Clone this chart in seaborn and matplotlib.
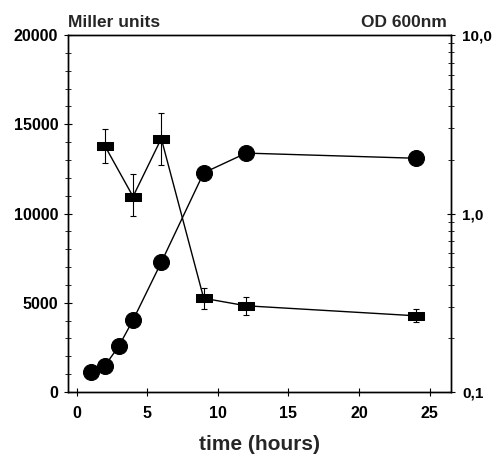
import numpy as np
import pandas as pd
import matplotlib
matplotlib.use("Agg")
import matplotlib.pyplot as plt
import seaborn as sns
from matplotlib.ticker import FixedLocator, FixedFormatter, MultipleLocator, LogLocator, NullFormatter

# ── DATA ────────────────────────────────────────────────────────────────────
miller_time = [2, 4, 6, 9, 12, 24]
miller_units = [13800, 10950, 14200, 5250, 4830, 4270]
miller_err_up = [950, 1250, 1450, 550, 500, 380]
miller_err_dn = [950, 1100, 1500, 600, 530, 370]

od_time = [1, 2, 3, 4, 6, 9, 12, 24]
od_600 = [0.130, 0.140, 0.181, 0.253, 0.533, 1.69, 2.18, 2.04]

left_ticks = [0, 5000, 10000, 15000, 20000]
right_ticks = [0.1, 1.0, 10.0]
right_labels = ["0,1", "1,0", "10,0"]
x_ticks = [0, 5, 10, 15, 20, 25]

# ── STYLE ───────────────────────────────────────────────────────────────────
sns.set_theme(style="ticks")
plt.rcParams["font.family"] = ["Liberation Sans", "DejaVu Sans"]
plt.rcParams["font.weight"] = "bold"

fig = plt.figure(figsize=(4.94, 4.61), dpi=100)
ax = fig.add_axes([0.1377, 0.1497, 0.7753, 0.7743])
ax2 = ax.twinx()

rect = [(-1, -0.55), (1, -0.55), (1, 0.55), (-1, 0.55), (-1, -0.55)]

df_m = pd.DataFrame({"t": miller_time, "mu": miller_units})
df_o = pd.DataFrame({"t": od_time, "od": od_600})

# Miller units (left axis)
ax.errorbar(miller_time, miller_units, yerr=[miller_err_dn, miller_err_up],
            fmt="none", ecolor="black", elinewidth=0.8, capsize=2.5, capthick=0.8, zorder=2)
sns.lineplot(data=df_m, x="t", y="mu", ax=ax, color="black", linewidth=1.0,
             marker=rect, markersize=11.5, markerfacecolor="black",
             markeredgecolor="black", zorder=3)

# OD 600 (right axis, log)
sns.lineplot(data=df_o, x="t", y="od", ax=ax2, color="black", linewidth=1.0,
             marker="o", markersize=11.5, markerfacecolor="black",
             markeredgecolor="black", zorder=3)

ax.set_xlim(-0.6, 26.5)
ax.set_ylim(0, 20000)
ax2.set_yscale("log")
ax2.set_ylim(0.1, 10)

ax.xaxis.set_major_locator(FixedLocator(x_ticks))
ax.yaxis.set_major_locator(FixedLocator(left_ticks))
ax.yaxis.set_minor_locator(MultipleLocator(1000))
ax2.yaxis.set_major_locator(FixedLocator(right_ticks))
ax2.yaxis.set_major_formatter(FixedFormatter(right_labels))
ax2.yaxis.set_minor_locator(LogLocator(base=10, subs=np.arange(2, 10)))
ax2.yaxis.set_minor_formatter(NullFormatter())

for a in (ax, ax2):
    for s in a.spines.values():
        s.set_linewidth(1.0)
        s.set_color("black")
ax.tick_params(axis="both", which="major", direction="inout", length=6, width=0.8,
               labelsize=11.5, colors="black", pad=4)
ax.tick_params(axis="x", which="major", pad=7)
ax.tick_params(axis="y", which="minor", direction="inout", length=4, width=0.7)
ax2.tick_params(axis="y", which="major", direction="inout", length=6, width=0.8,
                labelsize=11, colors="black", pad=5)
ax2.tick_params(axis="y", which="minor", direction="inout", length=4, width=0.7)
for lab in ax.get_xticklabels() + ax.get_yticklabels() + ax2.get_yticklabels():
    lab.set_fontweight("bold")

ax.set_xlabel("time (hours)", fontsize=15, fontweight="bold", labelpad=10)
ax.set_ylabel("")
ax2.set_ylabel("")

fig.text(0.1377, 0.935, "Miller units", fontsize=12.5, fontweight="bold", ha="left", va="bottom")
fig.text(0.905, 0.935, "OD 600nm", fontsize=12.5, fontweight="bold", ha="right", va="bottom")

fig.savefig("out.png", dpi=100)
